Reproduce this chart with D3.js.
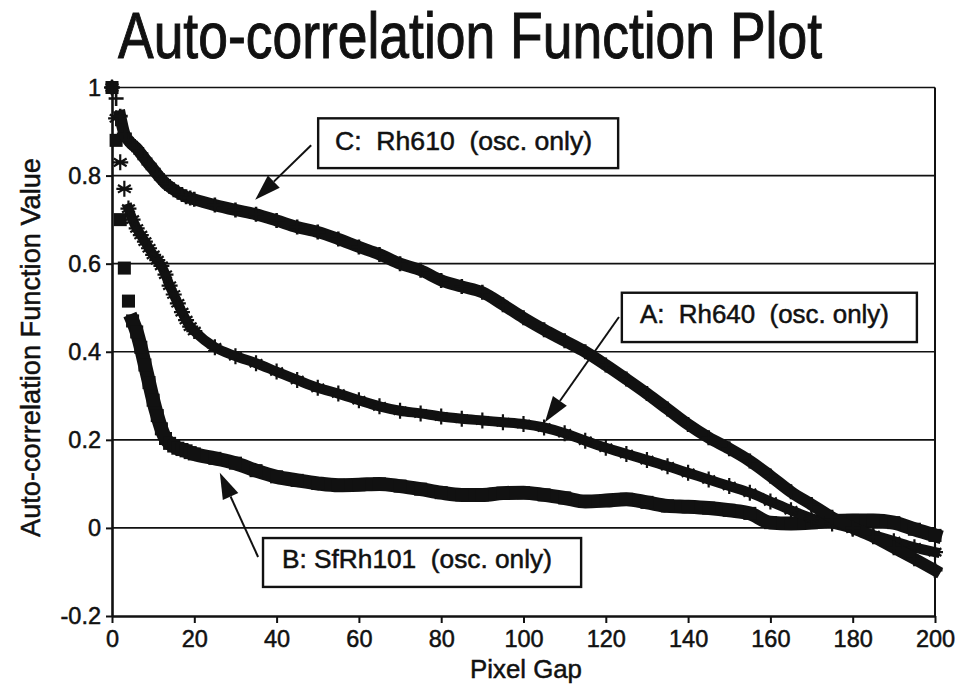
<!DOCTYPE html>
<html>
<head>
<meta charset="utf-8">
<script src="https://cdn.jsdelivr.net/npm/d3@7"></script>
<style>
  body { margin: 0; background: #fff; }
  text { font-family: "Liberation Sans", Arial, Helvetica, sans-serif; fill: #111; stroke: #111; stroke-width: 0.5px; }
</style>
</head>
<body>
<div id="chart"></div>
<script>
// pixel gap (x values)
var gap = [0,1,2,3,4,5,6,7,8,9,10,11,12,13,14,15,16,17,18,19,20,
  25,30,35,40,45,50,55,60,65,70,75,80,85,90,95,100,105,110,115,120,
  125,130,135,140,145,150,155,160,165,170,175,180,185,190,195,200];

// A: Rh640 (asterisks)
var rh640 = [1.0,0.93,0.83,0.77,0.725,0.70,0.68,0.665,0.65,0.635,0.62,0.608,0.595,0.575,0.55,0.53,0.51,0.49,0.472,0.457,0.447,
  0.41,0.39,0.374,0.355,0.336,0.318,0.305,0.29,0.276,0.266,0.26,0.253,0.248,0.244,0.24,0.236,0.228,0.215,0.198,0.182,
  0.168,0.154,0.14,0.125,0.11,0.095,0.08,0.06,0.04,0.022,0.01,-0.002,-0.016,-0.03,-0.044,-0.055];

// B: SfRh101 (squares)
var sfrh101 = [1.0,0.88,0.70,0.59,0.515,0.47,0.445,0.41,0.37,0.33,0.29,0.255,0.225,0.203,0.192,0.186,0.181,0.178,0.175,0.171,0.168,
  0.158,0.147,0.13,0.116,0.108,0.101,0.097,0.098,0.1,0.095,0.088,0.08,0.075,0.075,0.079,0.08,0.075,0.068,0.06,0.062,
  0.065,0.058,0.05,0.048,0.045,0.04,0.033,0.012,0.01,0.012,0.016,0.017,0.017,0.012,-0.003,-0.017];

// C: Rh610 (plus)
var rh610 = [1.0,0.975,0.935,0.895,0.88,0.87,0.862,0.85,0.838,0.826,0.815,0.803,0.792,0.782,0.775,0.768,0.762,0.757,0.752,0.749,0.746,
  0.733,0.722,0.712,0.698,0.683,0.672,0.656,0.638,0.621,0.6,0.585,0.562,0.548,0.535,0.507,0.477,0.45,0.425,0.4,0.37,
  0.338,0.305,0.27,0.235,0.205,0.18,0.152,0.118,0.082,0.053,0.024,0.0,-0.02,-0.045,-0.07,-0.096];

var xTicks = [0,20,40,60,80,100,120,140,160,180,200];
var yTicks = [-0.2,0,0.2,0.4,0.6,0.8,1];

var labelC = "C:  Rh610  (osc. only)";
var labelA = "A:  Rh640  (osc. only)";
var labelB = "B: SfRh101  (osc. only)";

var W = 962, H = 687;
var svg = d3.select("#chart").append("svg")
  .attr("width", W).attr("height", H)
  .style("display", "block");

var x = d3.scaleLinear().domain([0, 200]).range([112, 935]);
var y = d3.scaleLinear().domain([-0.2, 1]).range([616, 87.5]);
var ink = "#111";

// title
svg.append("text")
  .attr("x", 118).attr("y", 58)
  .attr("font-size", 64)
  .style("stroke-width", "1px")
  .attr("textLength", 704).attr("lengthAdjust", "spacingAndGlyphs")
  .text("Auto-correlation Function Plot");

// gridlines
svg.append("g").selectAll("line")
  .data(yTicks.filter(d => d > -0.2))
  .join("line")
  .attr("x1", x(0)).attr("x2", x(200))
  .attr("y1", d => y(d)).attr("y2", d => y(d))
  .attr("stroke", ink).attr("stroke-width", 1.6);

// right border
svg.append("line")
  .attr("x1", x(200)).attr("x2", x(200))
  .attr("y1", y(1)).attr("y2", y(-0.2))
  .attr("stroke", ink).attr("stroke-width", 2);

var fmt = d => String(+d.toFixed(1));

var yAxis = svg.append("g")
  .attr("transform", "translate(" + x(0) + ",0)")
  .call(d3.axisLeft(y).tickValues(yTicks).tickFormat(fmt).tickSize(6).tickSizeOuter(0).tickPadding(5));
var xAxis = svg.append("g")
  .attr("transform", "translate(0," + y(-0.2) + ")")
  .call(d3.axisBottom(x).tickValues(xTicks).tickFormat(fmt).tickSize(7).tickSizeOuter(0).tickPadding(7));

[yAxis, xAxis].forEach(function (a) {
  a.select(".domain").attr("stroke", ink).attr("stroke-width", 2.6);
  a.selectAll(".tick line").attr("stroke", ink).attr("stroke-width", 2);
  a.selectAll(".tick text")
    .attr("font-size", 23.5)
    .attr("font-family", "Liberation Sans, Arial, sans-serif")
    .attr("fill", ink);
});

// axis titles
svg.append("text")
  .attr("x", 526).attr("y", 678)
  .attr("text-anchor", "middle")
  .attr("font-size", 26)
  .attr("textLength", 112).attr("lengthAdjust", "spacingAndGlyphs")
  .text("Pixel Gap");

svg.append("text")
  .attr("transform", "translate(40,347.5) rotate(-90)")
  .attr("text-anchor", "middle")
  .attr("font-size", 28)
  .attr("textLength", 379).attr("lengthAdjust", "spacingAndGlyphs")
  .text("Auto-correlation Function Value");

// series
function rows(vals) { return gap.map((g, i) => ({ g: g, v: vals[i] })); }

var line = d3.line()
  .x(d => x(d.g)).y(d => y(d.v))
  .curve(d3.curveMonotoneX);

function starPath(r) {
  var s = r * 0.8;
  return "M0," + (-r) + "V" + r +
    "M" + (-s) + "," + (-s * 0.6) + "L" + s + "," + (s * 0.6) +
    "M" + (-s) + "," + (s * 0.6) + "L" + s + "," + (-s * 0.6) +
    "M" + (-r) + ",0H" + r;
}
function plusPath(r) {
  return "M0," + (-r) + "V" + r + "M" + (-r) + ",0H" + r;
}

var series = [
  { data: rows(sfrh101), from: 5, width: 14, marker: "square" },
  { data: rows(rh640), from: 4, width: 10, marker: "star" },
  { data: rows(rh610), from: 2, width: 12, marker: "plus" }
];

series.forEach(function (s) {
  var g = svg.append("g");
  g.append("path")
    .datum(s.data.slice(s.from))
    .attr("d", line)
    .attr("fill", "none")
    .attr("stroke", ink)
    .attr("stroke-width", s.width)
    .attr("stroke-linejoin", "round")
    .attr("stroke-linecap", "square");

  var m = g.selectAll(".m").data(s.data).join("path")
    .attr("transform", d => "translate(" + x(d.g) + "," + y(d.v) + ")");
  if (s.marker === "square") {
    m.attr("d", d3.symbol(d3.symbolSquare, 170)).attr("fill", ink);
  } else if (s.marker === "star") {
    m.attr("d", starPath(8)).attr("fill", "none")
      .attr("stroke", ink).attr("stroke-width", 2.2);
  } else {
    m.attr("d", plusPath(7.5)).attr("fill", "none")
      .attr("stroke", ink).attr("stroke-width", 2.6);
  }
});

// callouts (positions in data units)
var callouts = [
  { label: labelC, box: [50.1, 123.0, 0.930, 0.817], tx: 54.2, ty: 0.858, tl: 257, from: [48.4, 0.869], to: [34.8, 0.745] },
  { label: labelA, box: [123.9, 195.6, 0.534, 0.422], tx: 128.3, ty: 0.465, tl: 249, from: [123.2, 0.479], to: [105.2, 0.240] },
  { label: labelB, box: [36.7, 114.0, -0.023, -0.134], tx: 41.3, ty: -0.091, tl: 270, from: [35.5, -0.066], to: [26.2, 0.125] }
];

callouts.forEach(function (c) {
  var g = svg.append("g");
  g.append("rect")
    .attr("x", x(c.box[0])).attr("y", y(c.box[2]))
    .attr("width", x(c.box[1]) - x(c.box[0]))
    .attr("height", y(c.box[3]) - y(c.box[2]))
    .attr("fill", "#fff").attr("stroke", ink).attr("stroke-width", 2.4);
  g.append("text")
    .attr("x", x(c.tx)).attr("y", y(c.ty))
    .attr("font-size", 25)
    .attr("xml:space", "preserve").style("white-space", "pre")
    .attr("textLength", c.tl).attr("lengthAdjust", "spacingAndGlyphs")
    .text(c.label);

  var x1 = x(c.from[0]), y1 = y(c.from[1]), x2 = x(c.to[0]), y2 = y(c.to[1]);
  var dx = x2 - x1, dy = y2 - y1, len = Math.sqrt(dx * dx + dy * dy);
  var ux = dx / len, uy = dy / len, hl = 26, hw = 8.5;
  var bx = x2 - ux * hl, by = y2 - uy * hl;
  g.append("line")
    .attr("x1", x1).attr("y1", y1).attr("x2", bx).attr("y2", by)
    .attr("stroke", ink).attr("stroke-width", 2);
  g.append("path")
    .attr("d", "M" + x2 + "," + y2 +
      "L" + (bx - uy * hw) + "," + (by + ux * hw) +
      "L" + (bx + uy * hw) + "," + (by - ux * hw) + "Z")
    .attr("fill", ink);
});
</script>
</body>
</html>
